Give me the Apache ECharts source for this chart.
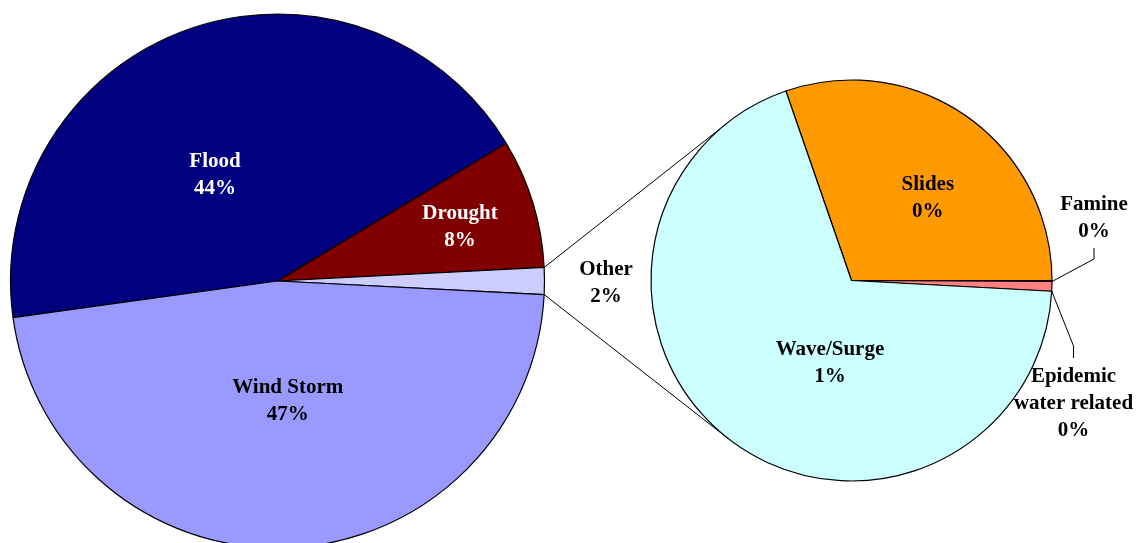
<!DOCTYPE html>
<html><head><meta charset="utf-8">
<script src="https://cdn.jsdelivr.net/npm/echarts@6/dist/echarts.min.js"></script>
<style>html,body{margin:0;padding:0;background:#fff}#c{width:1142px;height:543px}</style>
</head><body><div id="c"></div>
<script>
// ---- data (percent of all events) ----
const mainNames = ['Flood', 'Drought', 'Wind Storm'];
const mainValues = [43.55, 7.81, 46.98];
const otherName = 'Other';
const subNames = ['Slides', 'Famine', 'Epidemic\nwater related', 'Wave/Surge'];
const subValues = [0.49, 0.001, 0.0128, 1.113];

// ---- styles / layout ----
const mainColors = {'Flood': '#000080', 'Drought': '#800000', 'Other': '#CCCCFF', 'Wind Storm': '#9999FF'};
const mainLabelColors = {'Flood': '#fff', 'Drought': '#fff', 'Other': '#000', 'Wind Storm': '#000'};
const subColors = ['#FF9900', '#FFFF99', '#FF8080', '#CCFFFF'];
const leftCenter = [277.5, 281], leftR = 267;
const rightCenter = [851.5, 280.5], rightR = 200.5;
const leftLabelOffset = {'Flood': [-62.5, -105.5], 'Drought': [182.5, -53.5], 'Other': [328.5, 2], 'Wind Storm': [10.2, 120.5]};
const rightLabelOffset = [[76.3, -82.3], [242.5, -62.5], [222, 123.5], [-21.5, 83]];

const otherValue = subValues.reduce((a, b) => a + b, 0);
const total = mainValues.reduce((a, b) => a + b, 0) + otherValue;
const leftOrder = [mainNames[0], mainNames[1], otherName, mainNames[2]];
const leftVals = [mainValues[0], mainValues[1], otherValue, mainValues[2]];
const pct = v => Math.round(v / total * 100) + '%';

const font = {fontFamily: '"Liberation Serif","Times New Roman",serif', fontWeight: 'bold', fontSize: 21, lineHeight: 27};

const leftData = leftOrder.map((n, i) => ({
  name: n, value: leftVals[i],
  itemStyle: {color: mainColors[n]},
  label: Object.assign({color: mainLabelColors[n], position: n === otherName ? 'outside' : 'inside'}, font),
  labelLine: {show: false}
}));
const rightData = subNames.map((n, i) => ({
  name: n, value: subValues[i],
  itemStyle: {color: subColors[i]},
  label: Object.assign({color: '#000', position: (i === 1 || i === 2) ? 'outside' : 'inside'}, font),
  labelLine: {show: i === 1 || i === 2, lineStyle: {color: '#000', width: 1}}
}));

const leftStart = 360 * (leftVals[0] + leftVals[1] + leftVals[2] / 2) / total;
const rightStart = 360 * subValues[0] / otherValue;

// connector lines: from edges of the "Other" slice, tangent to the secondary pie
const halfA = Math.PI * otherValue / total;
function tangentLine(sign) {
  const px = leftCenter[0] + leftR * Math.cos(halfA);
  const py = leftCenter[1] + sign * leftR * Math.sin(halfA);
  const vx = px - rightCenter[0], vy = py - rightCenter[1];
  const d = Math.hypot(vx, vy);
  const phi = Math.atan2(vy, vx);
  const alpha = Math.acos(rightR / d);
  const t = sign < 0 ? phi + alpha : phi - alpha;
  return {type: 'line', silent: true, z: 0,
    shape: {x1: px, y1: py, x2: rightCenter[0] + rightR * Math.cos(t), y2: rightCenter[1] + rightR * Math.sin(t)},
    style: {stroke: '#000', lineWidth: 1}};
}

const chart = echarts.init(document.getElementById('c'));
chart.setOption({
  animation: false,
  backgroundColor: '#fff',
  graphic: [tangentLine(-1), tangentLine(1)],
  series: [
    {
      type: 'pie', center: leftCenter, radius: leftR, startAngle: leftStart, clockwise: true,
      avoidLabelOverlap: false, silent: true,
      itemStyle: {borderColor: '#000', borderWidth: 1.2},
      label: {formatter: p => p.name + '\n' + pct(p.value)},
      labelLayout: p => {
        const o = leftLabelOffset[leftOrder[p.dataIndex]];
        return {x: leftCenter[0] + o[0], y: leftCenter[1] + o[1], align: 'center', verticalAlign: 'middle'};
      },
      data: leftData
    },
    {
      type: 'pie', center: rightCenter, radius: rightR, startAngle: rightStart, clockwise: true,
      avoidLabelOverlap: false, silent: true,
      itemStyle: {borderColor: '#000', borderWidth: 1.2},
      label: {formatter: p => p.name + '\n' + pct(p.value)},
      labelLayout: p => {
        const i = p.dataIndex;
        const o = rightLabelOffset[i];
        const x = rightCenter[0] + o[0], y = rightCenter[1] + o[1];
        const res = {x: x, y: y, align: 'center', verticalAlign: 'middle'};
        if (i === 1) {
          const s = [rightCenter[0] + rightR, rightCenter[1] + 1];
          res.labelLinePoints = [s, [x, y + 41], [x, y + 30]];
        } else if (i === 2) {
          const s = [rightCenter[0] + rightR - 0.5, rightCenter[1] + 10];
          res.labelLinePoints = [s, [x, y - 58], [x, y - 46]];
        }
        return res;
      },
      data: rightData
    }
  ]
});
</script></body></html>
